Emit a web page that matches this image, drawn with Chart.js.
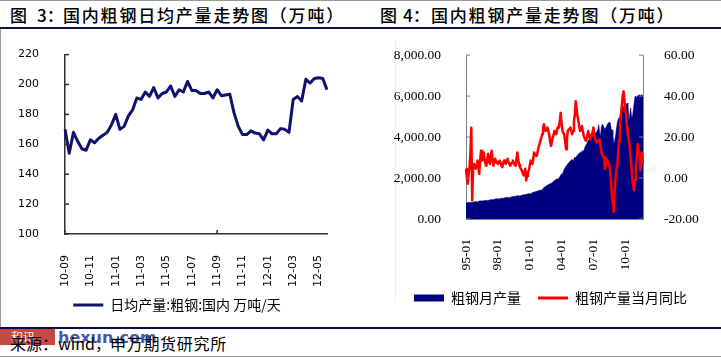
<!DOCTYPE html>
<html><head><meta charset="utf-8">
<script src="https://cdn.jsdelivr.net/npm/chart.js@4.4.1/dist/chart.umd.min.js"></script>
<style>
html,body{margin:0;padding:0;background:#fff;}
body{width:721px;height:357px;position:relative;overflow:hidden;font-family:"Noto Sans CJK SC",sans-serif;color:#000;}
.a{position:absolute;white-space:nowrap;}
.t{font-size:17px;line-height:17px;top:6px;font-weight:500;}
canvas{position:absolute;}
</style></head><body>
<!-- frame lines -->
<div class="a" style="left:0;top:0;width:721px;height:1px;background:#9a9a9a"></div>
<div class="a" style="left:0;top:29px;width:1px;height:298px;background:#9a9a9a"></div>
<div class="a" style="left:0;top:356px;width:721px;height:1px;background:#9a9a9a"></div>
<div class="a" style="left:395px;top:40px;width:1px;height:263px;background:#f0f0f0"></div>

<!-- titles -->
<span class="a t" style="left:10px">图</span>
<span class="a t" style="left:37px">3：</span>
<span class="a t" style="left:63px;letter-spacing:1.8px">国内粗钢日均产量走势图（万吨）</span>
<span class="a t" style="left:380px">图</span>
<span class="a t" style="left:403px">4：</span>
<span class="a t" style="left:431px;letter-spacing:1.8px">国内粗钢产量走势图（万吨）</span>

<canvas id="c1" width="354" height="296" style="left:0;top:30px;width:354px;height:296px"></canvas>
<canvas id="c2" width="341" height="296" style="left:380px;top:30px;width:341px;height:296px"></canvas>

<div class="a" style="left:0;top:27px;width:721px;height:2px;background:#0a0a4c"></div>
<div class="a" style="left:0;top:327px;width:721px;height:2px;background:#0a0a4c"></div>

<!-- watermark + source -->
<div class="a" style="left:0;top:329px;width:55px;height:16px;background:#c24a47;color:#fbe9e9;font-size:12px;line-height:16px;padding-left:11px;box-sizing:border-box">和讯</div>
<span class="a" style="left:58px;top:329px;font-family:'DejaVu Sans';font-weight:bold;font-size:16px;line-height:17px;color:rgba(48,64,150,0.9)">hexun.com</span>
<span class="a" style="left:10px;top:335px;font-size:16px;line-height:16px">来源：wind，</span>
<span class="a" style="left:110px;top:335px;font-size:16px;line-height:16px;letter-spacing:0.7px">申万期货研究所</span>

<script>
// ---------- Figure 3 data: daily average crude steel output (10-day periods) ----------
const dailyMonths = ['10-09','10-10','10-11','10-12','11-01','11-02','11-03','11-04','11-05','11-06','11-07',
  '11-08','11-09','11-10','11-11','11-12','12-01','12-02','12-03','12-04','12-05'];
const dailyPeriods = ['上旬','中旬','下旬'];
const dailyOutput = [
  170,154,168,162,157,156, 163,161,164,166,168,173,
  180,170,172,179,183,191, 190,195,192,198,191,194,
  195,199,192,196.5,195,202, 196,196,194,194,195,191,
  196.5,192.5,193,193.5,181,172, 166.5,166.5,169,167.5,167,163,
  169.5,167,167,170.5,170,168, 190,192,189,203.5,201,204,
  204.5,204,196.5
];
const dailyTicks = [100,120,140,160,180,200,220];

// ---------- Figure 4 data: monthly crude steel output and YoY ----------
const monthlyStart = {year:1995, month:1};
const monthlyOutput = [
  790,780,800,810,815,810,805,815,825,835,840,850,
  845,830,865,875,885,880,875,885,895,900,905,915,
  905,890,925,935,945,940,945,955,965,975,985,995,
  985,970,1000,1005,1015,1010,1015,1025,1035,1045,1050,1060,
  1050,1030,1065,1075,1085,1095,1100,1105,1115,1120,1130,1140,
  1130,1110,1150,1160,1170,1180,1185,1195,1205,1215,1225,1235,
  1240,1225,1265,1285,1300,1315,1325,1340,1355,1370,1385,1395,
  1410,1400,1450,1490,1530,1560,1590,1620,1650,1680,1700,1720,
  1760,1740,1800,1840,1880,1910,1930,1950,1960,1980,2060,2140,
  2210,2190,2320,2420,2500,2580,2640,2690,2740,2790,2840,2880,
  2900,2870,2960,3010,3000,3060,3120,3170,3210,3250,3260,3300,
  3350,3300,3450,3560,3650,3720,3810,3880,3950,4000,4060,4100,
  4150,4020,4200,4230,4300,4380,4600,4200,4050,4500,4620,4580,
  4450,4300,4460,4550,4650,4700,4720,4700,4400,4350,4100,3700,
  3820,4050,4400,4700,4860,4950,5020,5300,5590,5500,5500,5450,
  5500,5580,5660,5590,4780,5100,5420,5020,4940,5300,5650,5990,
  5990,5950,6000,6050,6070,6020,6070,6050,6000
];
const monthlyYoY = [
  4.5,0,-2.8,2,5.3,12,24.6,-10.8,5,6.9,5.5,4.5,
  6.5,8.5,5,2,9,13.3,8.5,10,12.5,9,7,6,
  9,11.7,8,6.9,10,13.3,9,6,8,9.4,8,7.5,
  6.9,7.5,8.5,7.5,6,5.3,7,8.5,7.5,6.9,8,9.4,
  8,7,6,7,7.5,8.5,7.5,6.5,6,9,12.5,9,
  6.5,5.3,4.5,3.7,2.5,1.3,3,4.5,-1.2,1,3,3.7,
  6,8.5,7.5,6.9,9.5,12.5,11.5,11,10.8,13,14.9,16.5,
  18.2,19.5,21.4,24,26.2,24.5,23,23.5,24.6,23,21.4,18,
  15.7,17.5,19.8,21,23,22.5,21.4,23.8,25,24.6,28,31.8,
  27,23,22,21.4,18,14.1,18,23,23.5,24,24.6,23,
  21.4,23,27.8,31,37.5,34,30,27.8,25,23,24,25.4,
  23,20.6,19.5,18.5,18.2,20.5,23,21,18.9,19.5,20.6,22.5,
  24.6,21,18.9,18,17.3,17.8,18.5,18.9,16,12.5,11,10.5,
  10.1,4.5,7,9.4,8,7,6.9,3,-2.8,-9.2,-12.5,-16.5,
  -6,0,4.5,6,12,18.2,26.2,30,35,40,42.3,38.3,
  33,31,24.6,21,18.9,15,10.1,5,-1.2,-3.5,-6,-1,
  5.3,10,16.6,14,11.7,3.7,8,12.5,6.9
];
const outputTicks = [0,2000,4000,6000,8000];
const yoyTicks = [-20,0,20,40,60];

// ---------- build categories ----------
const dailyLabels = [];
dailyMonths.forEach(m => dailyPeriods.forEach(p => dailyLabels.push(m + p)));
const monthlyLabels = monthlyOutput.map((_, i) => {
  const t = monthlyStart.month - 1 + i;
  const y = (monthlyStart.year + Math.floor(t / 12)) % 100;
  const m = t % 12 + 1;
  return String(y).padStart(2,'0') + '-' + String(m).padStart(2,'0');
});

// ---------- inside tick marks plugin ----------
const insideTicks = {
  id: 'insideTicks',
  afterDraw(chart, args, opts) {
    const ctx = chart.ctx;
    ctx.save();
    ctx.lineWidth = opts.width || 1;
    ctx.strokeStyle = opts.color || '#333';
    (opts.axes || []).forEach(a => {
      const s = chart.scales[a.id];
      if (!s) return;
      s.ticks.forEach((t, i) => {
        if (a.every && (i % a.every)) return;
        const p = s.getPixelForTick(i);
        ctx.beginPath();
        if (s.position === 'left') { ctx.moveTo(s.right, p); ctx.lineTo(s.right + a.len, p); }
        else if (s.position === 'right') { ctx.moveTo(s.left, p); ctx.lineTo(s.left - a.len, p); }
        else { ctx.moveTo(p, s.top); ctx.lineTo(p, s.top - a.len); }
        ctx.stroke();
      });
    });
    ctx.restore();
  }
};

// centre the legend over the whole canvas width rather than the padded box
const legendFullWidth = {
  id: 'legendFullWidth',
  afterLayout(chart) {
    const lg = chart.legend;
    if (!lg) return;
    lg.left = 0;
    lg.right = chart.width;
    lg.width = chart.width;
  }
};

const fmt2 = v => Number(v).toLocaleString('en-US', {minimumFractionDigits:2, maximumFractionDigits:2});

// ---------- Chart 1 ----------
new Chart(document.getElementById('c1'), {
  type: 'line',
  data: {
    labels: dailyLabels,
    datasets: [{
      label: '日均产量:粗钢:国内 万吨/天',
      data: dailyOutput,
      borderColor: '#11116e', backgroundColor: '#11116e',
      borderWidth: 3, pointRadius: 0, tension: 0, fill: false,
      borderJoinStyle: 'round'
    }]
  },
  options: {
    responsive: false, animation: false, devicePixelRatio: 1,
    layout: {padding: {left: 0, right: 27, top: 22, bottom: 4}},
    plugins: {
      tooltip: {enabled: false},
      legend: {
        position: 'bottom',
        labels: {
          usePointStyle: true, pointStyle: 'line', pointStyleWidth: 30, boxHeight: 14,
          padding: 10, color: '#000',
          font: {family: 'Noto Sans CJK SC', size: 14},
          generateLabels: ch => ch.data.datasets.map((d, i) => ({
            text: d.label, strokeStyle: d.borderColor, fillStyle: d.borderColor,
            lineWidth: 3, pointStyle: 'line', datasetIndex: i, fontColor: '#000'
          }))
        }
      },
      insideTicks: {color: '#303030', width: 1.5, axes: [{id: 'y', len: 4}, {id: 'x', len: 4, every: 6}]}
    },
    scales: {
      x: {
        grid: {display: false},
        border: {display: true, color: '#303030', width: 1.5},
        ticks: {
          autoSkip: false, maxRotation: 90, minRotation: 90, padding: 13, color: '#000',
          font: {family: 'DejaVu Sans', size: 11},
          callback: (v, i) => (i % 6 === 0 ? dailyMonths[i / 3] : null)
        },
        afterFit: s => { s.height = 54; }
      },
      y: {
        min: 100, max: 220,
        afterBuildTicks: s => { s.ticks = dailyTicks.map(v => ({value: v})); },
        grid: {display: false},
        border: {display: true, color: '#303030', width: 1.5},
        ticks: {padding: 18, color: '#000', font: {family: 'DejaVu Sans', size: 11}},
        afterFit: s => { s.width = 65; }
      }
    }
  },
  plugins: [insideTicks, legendFullWidth]
});

// ---------- Chart 2 ----------
new Chart(document.getElementById('c2'), {
  type: 'line',
  data: {
    labels: monthlyLabels,
    datasets: [
      {
        label: '粗钢月产量', data: monthlyOutput, yAxisID: 'y', order: 1,
        borderColor: '#000080', backgroundColor: '#000080', borderWidth: 0.6,
        pointRadius: 0, tension: 0, fill: 'origin'
      },
      {
        label: '粗钢产量当月同比', data: monthlyYoY, yAxisID: 'y1', order: 0,
        borderColor: '#ff0000', backgroundColor: '#ff0000', borderWidth: 2.5,
        pointRadius: 0, tension: 0, fill: false, borderJoinStyle: 'round'
      }
    ]
  },
  options: {
    responsive: false, animation: false, devicePixelRatio: 1,
    layout: {padding: {left: 0, right: 0, top: 23, bottom: 11}},
    plugins: {
      tooltip: {enabled: false},
      legend: {
        position: 'bottom',
        labels: {
          usePointStyle: true, pointStyleWidth: 30, boxHeight: 7,
          padding: 17, color: '#000',
          font: {family: 'Noto Sans CJK SC', size: 14},
          generateLabels: ch => ch.data.datasets.map((d, i) => ({
            text: d.label, datasetIndex: i, fontColor: '#000',
            strokeStyle: d.borderColor, fillStyle: d.backgroundColor,
            lineWidth: i === 0 ? 0 : 3, pointStyle: i === 0 ? 'rect' : 'line'
          })),
          sort: (a, b) => a.datasetIndex - b.datasetIndex
        }
      },
      insideTicks: {color: '#808080', width: 1, axes: [{id: 'y', len: 4}, {id: 'y1', len: 4}]}
    },
    scales: {
      x: {
        grid: {display: false},
        border: {display: true, color: '#808080', width: 1},
        ticks: {
          autoSkip: false, maxRotation: 90, minRotation: 90, padding: 12, color: '#000',
          font: {family: 'Liberation Serif', size: 13.5},
          callback: (v, i) => (i % 36 === 0 ? monthlyLabels[i] : null)
        },
        afterFit: s => { s.height = 55; }
      },
      y: {
        position: 'left', min: 0, max: 8000,
        afterBuildTicks: s => { s.ticks = outputTicks.map(v => ({value: v})); },
        grid: {display: false},
        border: {display: true, color: '#808080', width: 1},
        ticks: {padding: 17, color: '#000', font: {family: 'Liberation Serif', size: 13.5}, callback: fmt2},
        afterFit: s => { s.width = 86; }
      },
      y1: {
        position: 'right', min: -20, max: 60,
        afterBuildTicks: s => { s.ticks = yoyTicks.map(v => ({value: v})); },
        grid: {display: false},
        border: {display: true, color: '#808080', width: 1},
        ticks: {padding: 13, color: '#000', font: {family: 'Liberation Serif', size: 13.5}, callback: fmt2},
        afterFit: s => { s.width = 78; }
      }
    }
  },
  plugins: [insideTicks]
});
</script>
</body></html>
